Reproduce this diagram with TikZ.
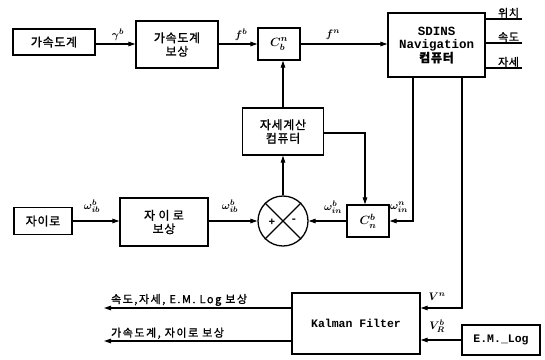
\documentclass[tikz,border=0pt]{standalone}
\usepackage{fontspec}
\setmainfont{Liberation Mono}
\newfontfamily\kr[LetterSpace=6,FakeBold=1.2]{Noto Sans CJK KR}
\newfontfamily\krw[LetterSpace=14,FakeBold=1.2]{Noto Sans CJK KR}
\usetikzlibrary{arrows.meta}
\begin{document}
\begin{tikzpicture}[x=1pt,y=-1pt, line width=1.2pt,
  blk/.style={draw, line width=1.3pt, inner sep=0pt, align=center,
    font=\kr\fontsize{12}{13.5}\selectfont},
  arr/.style={-{Triangle[length=7pt,width=4.5pt]}},
  lbl/.style={font=\boldmath\fontsize{11}{11}\selectfont, inner sep=0.5pt},
  outl/.style={font=\kr\fontsize{11}{12}\selectfont, inner sep=0.5pt, anchor=south west},
  botl/.style={font=\krw\fontsize{11}{12}\selectfont, inner sep=0.5pt, anchor=south west},
  sgn/.style={font=\bfseries\fontsize{11}{11}\selectfont, inner sep=0pt}]
\useasboundingbox (0,0) rectangle (545,359);
% blocks
\node[blk, minimum width=82pt, minimum height=26pt] (acc) at (54,42) {가속도계};
\node[blk, minimum width=82pt, minimum height=47pt] (accc) at (177,44.5) {가속도계\\보상};
\node[blk, minimum width=42pt, minimum height=32pt, font=\boldmath\fontsize{13}{13}\selectfont] (cbn) at (279,44) {$C^n_b$};
\node[blk, minimum width=97pt, minimum height=64pt, font=\bfseries\fontsize{12.5}{13.5}\selectfont] (sdins) at (436.5,45) {SDINS\\Navigation\\{\kr\fontsize{12}{13}\selectfont 컴퓨터}};
\node[blk, minimum width=81pt, minimum height=47pt] (att) at (283,131.5) {자세계산\\컴퓨터};
\node[blk, minimum width=42pt, minimum height=32pt, font=\boldmath\fontsize{13}{13}\selectfont] (cnb) at (368,221) {$C^b_n$};
\node[draw, circle, line width=1.3pt, minimum size=50pt, inner sep=0pt] (circ) at (283,221) {};
\node[blk, minimum width=58pt, minimum height=27pt] (gyro) at (43,221) {자이로};
\node[blk, minimum width=88pt, minimum height=48pt] (gyroc) at (164,222) {자 이 로\\보상};
\node[blk, minimum width=128pt, minimum height=61pt, font=\bfseries\fontsize{11.5}{12}\selectfont] (kal) at (356,323.5) {Kalman Filter};
\node[blk, minimum width=78pt, minimum height=30pt, font=\bfseries\fontsize{11.5}{12}\selectfont] (eml) at (501,340) {E.M.\_Log};
% circle cross and signs
\draw[line width=1.3pt] (circ.45) -- (circ.225) (circ.135) -- (circ.315);
\node[sgn] (plus) at (272,222) {+};
\node[sgn] (minus) at (294,221) {-};
% top chain
\draw[arr] (acc.east |- 0,44) -- (accc.west |- 0,44);
\draw[arr] (accc.east |- 0,44) -- (cbn.west |- 0,44);
\draw[arr] (cbn.east |- 0,44) -- (sdins.west |- 0,44);
\node[lbl] (gam) at (118,35) {$\gamma^b$};
\node[lbl] (fb) at (241,35) {$f^b$};
\node[lbl] (fn) at (333,35) {$f^n$};
% sdins outputs
\coordinate (o1) at (522,19);
\coordinate (o2) at (522,43);
\coordinate (o3) at (522,68);
\draw (sdins.east |- o1) -- (o1);
\draw (sdins.east |- o2) -- (o2);
\draw (sdins.east |- o3) -- (o3);
\node[outl] (t1) at (497,19) {위치};
\node[outl] (t2) at (497,43) {속도};
\node[outl] (t3) at (497,68) {자세};
% attitude loop
\draw[arr] (att.north) -- (att.north |- cbn.south);
\draw[arr] (circ.north) -- (att.south);
\coordinate (r1) at (365,133);
\draw[arr] (att.east |- r1) -- (r1) -- (r1 |- cnb.north);
\draw[arr] (cnb.west) -- (circ.east);
\coordinate (s1) at (413,221);
\draw[arr] (sdins.south -| s1) -- (s1) -- (cnb.east);
\node[lbl] (win) at (333,207) {$\omega^b_{in}$};
\node[lbl] (wnn) at (399,207) {$\omega^n_{in}$};
% gyro chain
\draw[arr] (gyro.east) -- (gyroc.west |- gyro.east);
\draw[arr] (gyroc.east |- circ.west) -- (circ.west);
\node[lbl] (wib1) at (92,206) {$\omega^b_{ib}$};
\node[lbl] (wib2) at (230,206) {$\omega^b_{ib}$};
% kalman inputs
\coordinate (s2) at (462,308);
\draw[arr] (sdins.south -| s2) -- (s2) -- (kal.east |- s2);
\draw[arr] (eml.west) -- (kal.east |- eml.west);
\node[lbl] (vn) at (437,297) {$V^n$};
\node[lbl] (vb) at (437,326) {$V^b_R$};
% kalman outputs
\coordinate (k1) at (104,308);
\coordinate (k2) at (104,341);
\draw[arr] (kal.west |- k1) -- (k1);
\draw[arr] (kal.west |- k2) -- (k2);
\node[botl] (b1) at (110,307) {속도,자세, E.M. Log 보상};
\node[botl] (b2) at (110,340) {가속도계, 자이로 보상};
\end{tikzpicture}
\end{document}
